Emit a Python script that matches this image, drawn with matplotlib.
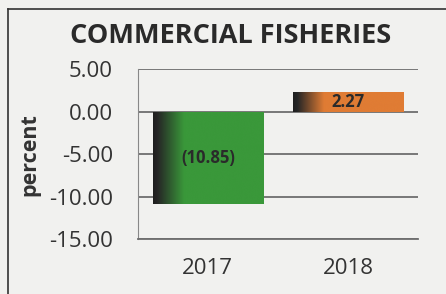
import matplotlib.pyplot as plt
import numpy as np
from matplotlib.colors import LinearSegmentedColormap

years = ['2017', '2018']
values = [-10.85, 2.27]
labels = ['(10.85)', '2.27']
colors = ['#3a983a', '#e07c34']

plt.rcParams['font.family'] = ['Open Sans', 'DejaVu Sans']

fig = plt.figure(figsize=(4.46, 2.94), dpi=100)
fig.patch.set_facecolor('#f1f1ef')
ax = fig.add_axes([0.309, 0.187, 0.628, 0.578])
ax.set_facecolor('#f1f1ef')

x = np.arange(len(years))
bars = ax.bar(x, values, width=0.79, color='none', zorder=3)

# horizontal gradient: dark on the left edge fading into the bar colour
grad = np.linspace(0, 1, 256).reshape(1, -1)
for bar, c in zip(bars, colors):
    cmap = LinearSegmentedColormap.from_list('g', [(0, '#1e1e1e'), (0.04, '#262626'), (0.28, c), (1, c)])
    x0, y0 = bar.get_x(), bar.get_y()
    w, h = bar.get_width(), bar.get_height()
    im = ax.imshow(grad, cmap=cmap, aspect='auto', extent=(x0, x0 + w, y0, y0 + h),
                   zorder=3, interpolation='bicubic')
    im.set_clip_path(bar)

for xi, v, lab in zip(x, values, labels):
    ax.text(xi, v / 2, lab, ha='center', va='center', fontsize=12,
            fontweight='bold', color='#2a2a2a', zorder=4)

ax.set_xlim(-0.5, 1.5)
ax.set_ylim(-15, 5)
ax.set_yticks([5, 0, -5, -10, -15])
ax.set_yticklabels(['5.00', '0.00', '-5.00', '-10.00', '-15.00'])
ax.set_xticks(x)
ax.set_xticklabels(years)
ax.tick_params(axis='both', labelsize=16, colors='#333333', length=0)
ax.tick_params(axis='y', pad=18)
ax.tick_params(axis='x', pad=14)
ax.yaxis.grid(True, color='#6e6e6e', lw=1.3, zorder=1)
for s in ['top', 'right']:
    ax.spines[s].set_visible(False)
ax.spines['left'].set_color('#888888')
ax.spines['bottom'].set_color('#6e6e6e')
ax.spines['bottom'].set_linewidth(1.3)

fig.text(30 / 446, 1 - 155 / 294, 'percent', rotation=90, ha='center', va='center',
         fontsize=15.5, fontweight='bold', color='#333333')
fig.text(231 / 446, 1 - 36 / 294, 'COMMERCIAL FISHERIES', ha='center', va='center',
         fontsize=19.5, fontweight='bold', color='#2a2a2a')

# outer chart border
fig.add_artist(plt.Line2D([8 / 446, 8 / 446], [0, 1 - 9 / 294], color='#333333', lw=1.2))
fig.add_artist(plt.Line2D([8 / 446, 1], [1 - 9 / 294, 1 - 9 / 294], color='#333333', lw=1.2))

fig.savefig('out.png', dpi=100, facecolor=fig.get_facecolor())
